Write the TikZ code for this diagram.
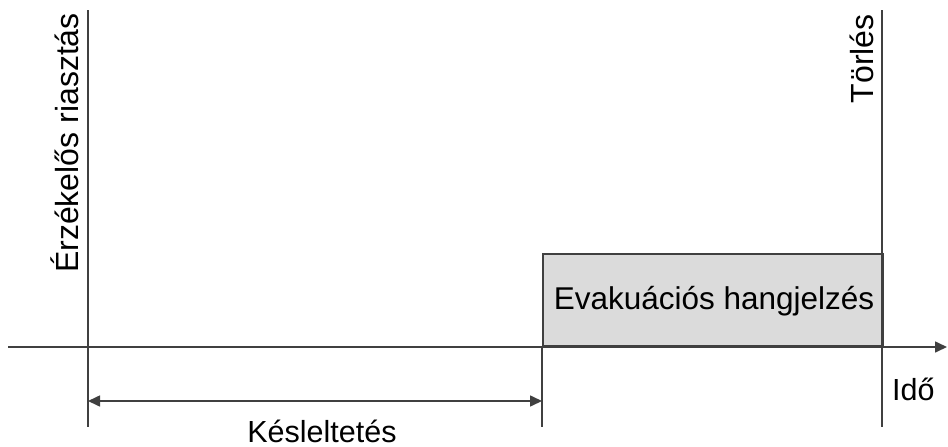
\documentclass[tikz,border=0pt]{standalone}
\usepackage{fontspec}
\setmainfont{Liberation Sans}
\usetikzlibrary{arrows.meta}
\begin{document}
\begin{tikzpicture}[x=1pt,y=-1pt,
  ln/.style={draw=black!75, line width=1.6pt},
  lbl/.style={inner sep=0pt, text=black},
  tip/.style={-{Triangle[length=12pt,width=11pt]}}]
\useasboundingbox (0,0) rectangle (948,447);
% box
\node[ln, fill=black!14, minimum width=340pt, minimum height=92pt, inner sep=0pt, anchor=south west] (box) at (542,347) {};
% coordinates
\coordinate (a0) at (8,347);
\coordinate (a1) at (947,347);
\coordinate (l0) at (88,10);
\coordinate (l1) at (88,427);
\coordinate (m1) at (542,427);
\coordinate (r0) at (882,10);
\coordinate (r1) at (882,427);
\coordinate (d0) at (88,401);
\coordinate (d1) at (542,401);
% axis and lines
\draw[ln, tip] (a0) -- (a1);
\draw[ln] (l0) -- (l1);
\draw[ln] (box.south west) -- (m1);
\draw[ln] (r0) -- (r1);
\draw[ln, {Triangle[length=12pt,width=11pt]}-{Triangle[length=12pt,width=11pt]}] (d0) -- (d1);
% labels
\node[lbl, rotate=90, anchor=base east, font=\fontsize{32}{38}\selectfont] (t1) at (78,13) {Érzékelős riasztás};
\node[lbl, rotate=90, anchor=base east, font=\fontsize{32}{38}\selectfont] (t2) at (873,14) {Törlés};
\node[lbl, anchor=base, font=\fontsize{31.5}{38}\selectfont] (t3) at (714,309) {Evakuációs hangjelzés};
\node[lbl, anchor=base, font=\fontsize{30.5}{36}\selectfont] (t4) at (322,442) {Késleltetés};
\node[lbl, anchor=base west, font=\fontsize{30.5}{36}\selectfont] (t5) at (892,400) {Idő};
\end{tikzpicture}
\end{document}
